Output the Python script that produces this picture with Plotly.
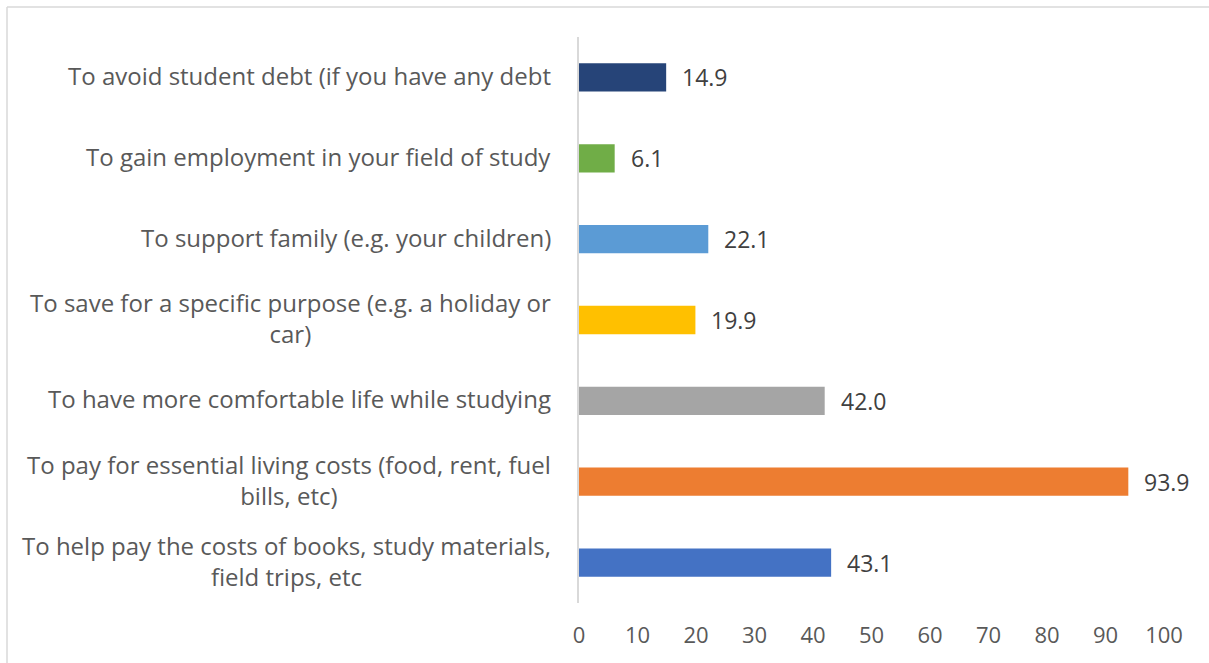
import plotly.graph_objects as go

categories = [
    "To help pay the costs of books, study materials,<br>field trips, etc",
    "To pay for essential living costs (food, rent, fuel<br>bills, etc)",
    "To have more comfortable life while studying",
    "To save for a specific purpose (e.g. a holiday or<br>car)",
    "To support family (e.g. your children)",
    "To gain employment in your field of study",
    "To avoid student debt (if you have any debt",
]
values = [43.1, 93.9, 42.0, 19.9, 22.1, 6.1, 14.9]
colors = ["#4472C4", "#ED7D31", "#A5A5A5", "#FFC000", "#5B9BD5", "#70AD47", "#264478"]
x_ticks = [0, 10, 20, 30, 40, 50, 60, 70, 80, 90, 100]

FONT = "Open Sans"

fig = go.Figure(
    go.Bar(
        y=categories,
        x=values,
        orientation="h",
        marker=dict(color=colors, line=dict(width=0)),
        hoverinfo="skip",
    )
)

annotations = []
for c, v in zip(categories, values):
    annotations.append(dict(
        x=0, xref="paper", y=c, yref="y", text=c, showarrow=False,
        xanchor="right", yanchor="middle", align="center", xshift=-26, yshift=2,
        font=dict(family=FONT, size=24, color="#595959"),
    ))
    annotations.append(dict(
        x=v, xref="x", y=c, yref="y", text=f"{v:.1f}", showarrow=False,
        xanchor="left", yanchor="middle", xshift=14,
        font=dict(family=FONT, size=23, color="#404040"),
    ))

fig.update_layout(
    width=1209, height=663,
    margin=dict(l=579, r=45, t=37, b=60),
    paper_bgcolor="white", plot_bgcolor="white",
    bargap=0.65,
    showlegend=False,
    font=dict(family=FONT, size=18, color="#595959"),
    xaxis=dict(
        range=[0, 100], tickvals=x_ticks, showgrid=False, zeroline=False,
        showline=False, ticks="", ticklabelstandoff=17,
        tickfont=dict(family=FONT, size=22, color="#595959"),
        fixedrange=True,
    ),
    yaxis=dict(
        showticklabels=False, showgrid=False, zeroline=False,
        showline=True, linecolor="#D9D9D9", linewidth=1.5, ticks="",
        fixedrange=True,
    ),
    annotations=annotations,
    shapes=[
        dict(type="line", xref="paper", yref="paper",
             x0=(7 - 579) / 585, x1=(1212 - 579) / 585,
             y0=(603 - 7) / 566, y1=(603 - 7) / 566,
             line=dict(color="#D9D9D9", width=1.5)),
        dict(type="line", xref="paper", yref="paper",
             x0=(7 - 579) / 585, x1=(7 - 579) / 585,
             y0=(603 - 7) / 566, y1=(603 - 670) / 566,
             line=dict(color="#D9D9D9", width=1.5)),
    ],
)

fig.write_html(
    "out.html",
    config={"displayModeBar": False},
    post_script="document.body.style.margin='0';document.body.style.overflow='hidden';",
)
